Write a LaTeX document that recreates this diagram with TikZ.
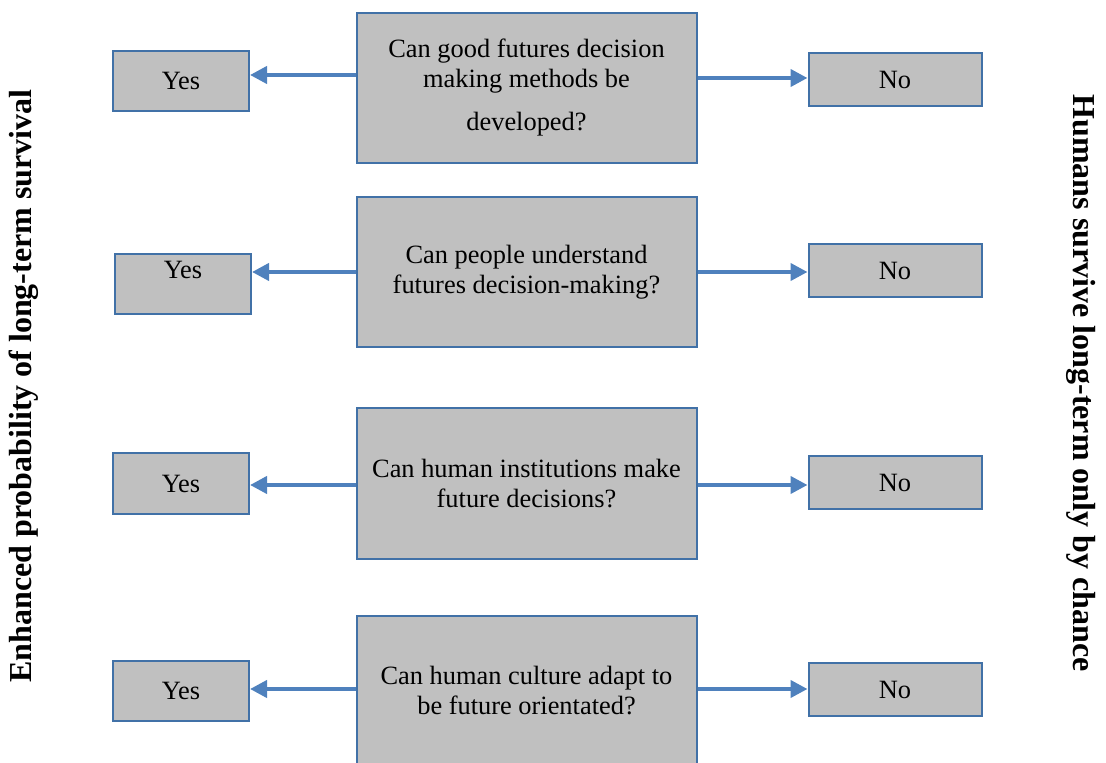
\documentclass[tikz,border=0pt]{standalone}
\usepackage{fontspec}
\setmainfont{Liberation Serif}
\definecolor{bordeazul}{RGB}{65,113,167}
\definecolor{flechaazul}{RGB}{79,129,189}
\definecolor{grisbox}{RGB}{192,192,192}
\usetikzlibrary{arrows.meta,positioning}

\begin{document}
\begin{tikzpicture}[x=0.5pt,y=-0.5pt,>={Triangle[length=8.5pt,width=8.5pt]},
  every node/.style={font=\fontsize{13.2}{15}\selectfont,align=center},
  box/.style={draw=bordeazul, fill=grisbox, line width=1pt, minimum width=170pt, minimum height=75pt},
  yesbox/.style={draw=bordeazul, fill=grisbox, line width=1pt, minimum width=68pt, minimum height=30pt},
  nobox/.style={draw=bordeazul, fill=grisbox, line width=1pt, minimum width=86.5pt, minimum height=26.5pt},
  flecha/.style={->, draw=flechaazul, line width=2pt}]

% Marco de la figura
\useasboundingbox (0,0) rectangle (1106,763);
\clip (0,0) rectangle (1106,763);

% Preguntas centrales
\node[box] (q1) at (526.5,88) {Can good futures decision\\making methods be\\[6.5pt]developed?};
\node[box] (q2) at (526.5,272) {Can people understand\\futures decision-making?};
\node[box] (q3) at (526.5,483.5) {Can human institutions make\\future decisions?};
\node[box] (q4) at (526.5,690.5) {Can human culture adapt to\\be future orientated?};

% Respuestas Yes
\node[yesbox] (y1) at (181,81) {Yes};
\node[yesbox, text depth=14pt] (y2) at (183,284) {Yes};
\node[yesbox] (y3) at (181,483.5) {Yes};
\node[yesbox] (y4) at (181,691) {Yes};

% Respuestas No
\node[nobox] (n1) at (895,79.5) {No};
\node[nobox] (n2) at (895,271) {No};
\node[nobox] (n3) at (895,482.5) {No};
\node[nobox] (n4) at (895,689.5) {No};

% Flechas hacia Yes
\draw[flecha] (q1.west |- 0,75) -- (y1.east |- 0,75);
\draw[flecha] (q2.west |- 0,272) -- (y2.east |- 0,272);
\draw[flecha] (q3.west |- 0,485) -- (y3.east |- 0,485);
\draw[flecha] (q4.west |- 0,689) -- (y4.east |- 0,689);

% Flechas hacia No
\draw[flecha] (q1.east |- 0,78) -- (n1.west |- 0,78);
\draw[flecha] (q2.east |- 0,272) -- (n2.west |- 0,272);
\draw[flecha] (q3.east |- 0,485) -- (n3.west |- 0,485);
\draw[flecha] (q4.east |- 0,689) -- (n4.west |- 0,689);

% Textos laterales
\node[rotate=90, font=\bfseries\fontsize{16}{19}\selectfont] (izq) at (24,386) {Enhanced probability of long-term survival};
\node[rotate=-90, font=\bfseries\fontsize{16}{19}\selectfont] (der) at (1081,383) {Humans survive long-term only by chance};

\end{tikzpicture}
\end{document}
